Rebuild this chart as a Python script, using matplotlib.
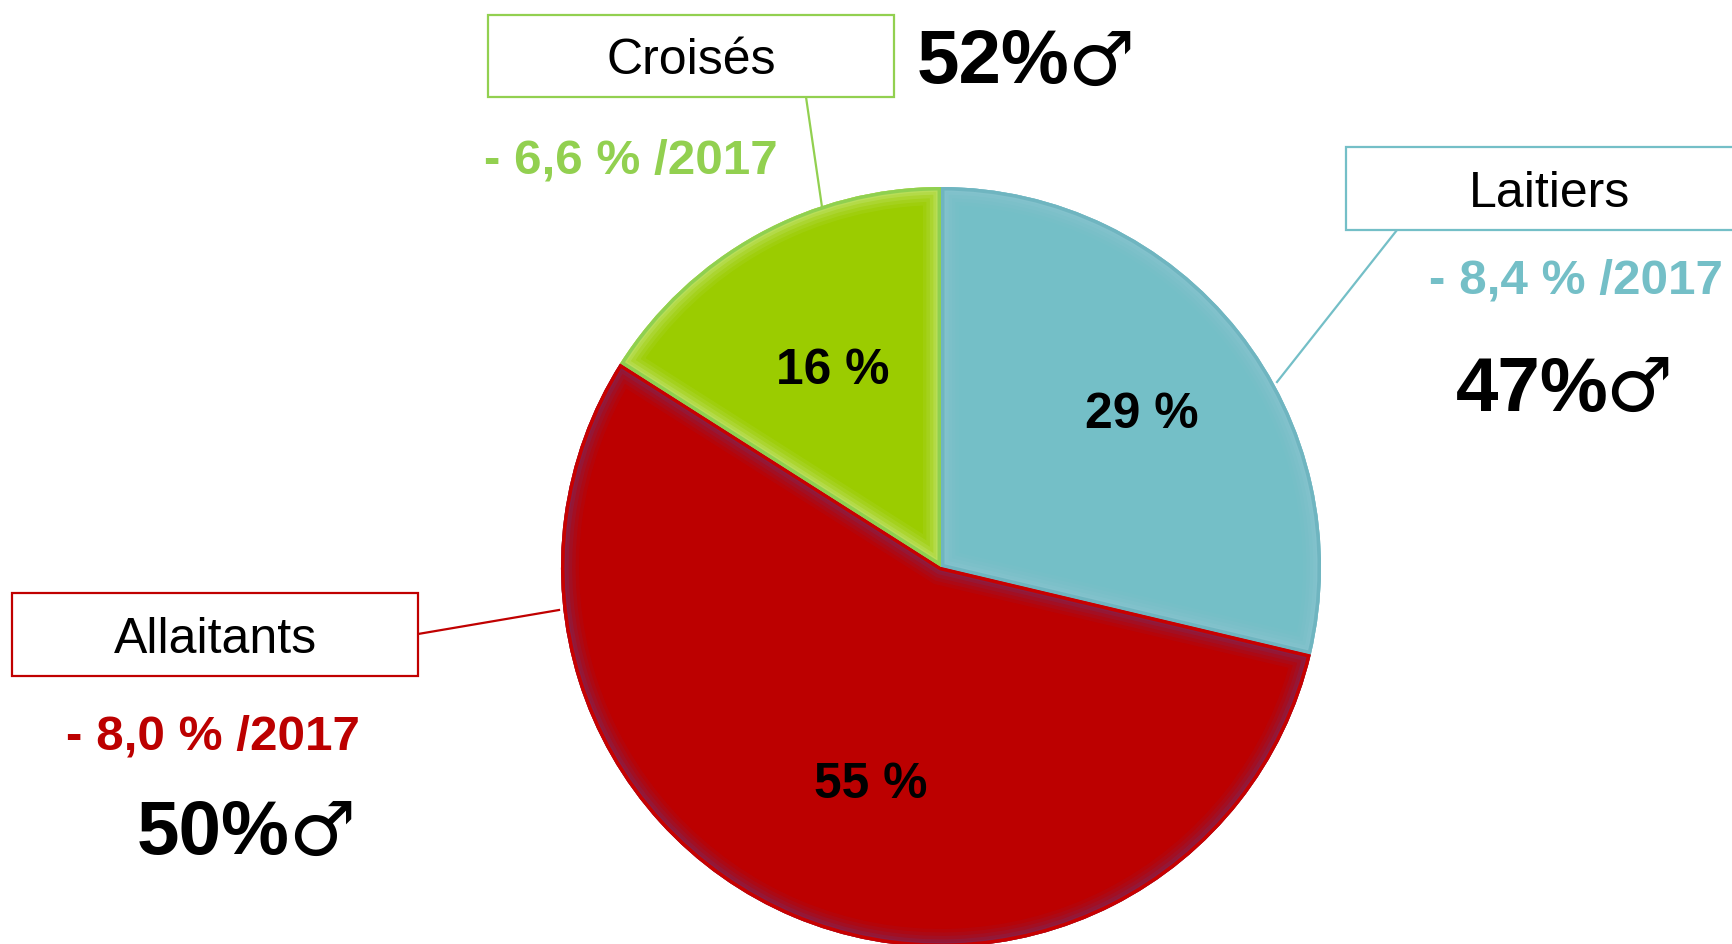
import matplotlib
matplotlib.use("Agg")
import matplotlib.pyplot as plt
from matplotlib.colors import to_rgba
from matplotlib.patches import Rectangle

# Data
categories = ["Laitiers", "Allaitants", "Croisés"]
shares = [28.7, 55.3, 16.0]
share_labels = ["29 %", "55 %", "16 %"]
trend_labels = ["- 8,4 % /2017", "- 8,0 % /2017", "- 6,6 % /2017"]
male_labels = ["47%", "50%", "52%"]

# Styles
W, H = 1733, 944
fills = ["#74BFC7", "#BC0000", "#9BCC00"]
outer_edges = ["#6FB5C0", "#C80000", "#8FD050"]
glows = ["#8CC5D0", "#7A2A60", "#C8E880"]
trend_colors = ["#74BFC7", "#BC0000", "#92D050"]
box_edges = ["#74BFC7", "#C00000", "#92D050"]
CX, CY, R = 941, 567, 380

plt.rcParams["font.family"] = ["Liberation Sans", "DejaVu Sans"]
fig = plt.figure(figsize=(W / 100, H / 100), dpi=100)
ax = fig.add_axes([0, 0, 1, 1])


def Y(py):
    return H - py


def layer(**wp):
    wedges, _ = ax.pie(shares, startangle=90, counterclock=False, radius=R,
                       center=(CX, Y(CY)), colors=fills, wedgeprops=wp, frame=True)
    return wedges


# base fill
base = layer(linewidth=0)
# soft inner glow clipped to each wedge, then crisp outer rim
for lw, alpha in [(26, 0.10), (21, 0.14), (16, 0.2), (11, 0.3), (7, 0.3)]:
    for w, b, g in zip(layer(linewidth=lw), base, glows):
        w.set_facecolor("none")
        w.set_edgecolor(to_rgba(g, alpha))
        w.set_clip_on(True)
        w.set_clip_path(b)
for w, b, e in zip(layer(linewidth=5), base, outer_edges):
    w.set_facecolor("none")
    w.set_edgecolor(e)
    w.set_clip_on(True)
    w.set_clip_path(b)

ax.set_xlim(0, W)
ax.set_ylim(0, H)
ax.set_aspect("equal")
ax.axis("off")

# Category boxes: left, top, right, bottom px
boxes = [(1346, 147, 1760, 230), (12, 593, 418, 676), (488, 15, 894, 97)]
leaders = [((1397, 230), (1277, 382)), ((418, 634), (559, 610)), ((806, 97), (822, 207))]
label_pos = [(1550, 194), (215, 640), (691, 61)]
share_pos = [(1142, 415), (871, 785), (833, 371)]
trend_pos = [(1576, 281), (213, 737), (631, 161)]
male_pos = [(1456, 391), (137, 835), (917, 63)]
symbol_pos = [(1639, 390), (322, 834), (1101, 64)]

for i, name in enumerate(categories):
    l, t, r, b = boxes[i]
    ax.add_patch(Rectangle((l, Y(b)), r - l, b - t, fc="white", ec=box_edges[i], lw=1.6, zorder=5))
    (x0, y0), (x1, y1) = leaders[i]
    ax.plot([x0, x1], [Y(y0), Y(y1)], color=box_edges[i], lw=1.6, zorder=4)
    ax.text(label_pos[i][0], Y(label_pos[i][1]), name, fontsize=36, ha="center", va="center", color="black", zorder=6)
    ax.text(share_pos[i][0], Y(share_pos[i][1]), share_labels[i], fontsize=35.8, fontweight="bold", ha="center", va="center", color="black", zorder=6)
    ax.text(trend_pos[i][0], Y(trend_pos[i][1]), trend_labels[i], fontsize=35.6, fontweight="bold", ha="center", va="center", color=trend_colors[i], zorder=6)
    ax.text(male_pos[i][0], Y(male_pos[i][1]), male_labels[i], fontsize=55, fontweight="bold", ha="left", va="center", color="black", zorder=6)
    ax.text(symbol_pos[i][0], Y(symbol_pos[i][1]), "\u2642", fontsize=54, family="DejaVu Sans", fontweight="bold", ha="center", va="center", color="black", zorder=6)

fig.savefig("out.png", dpi=100, facecolor="white")
